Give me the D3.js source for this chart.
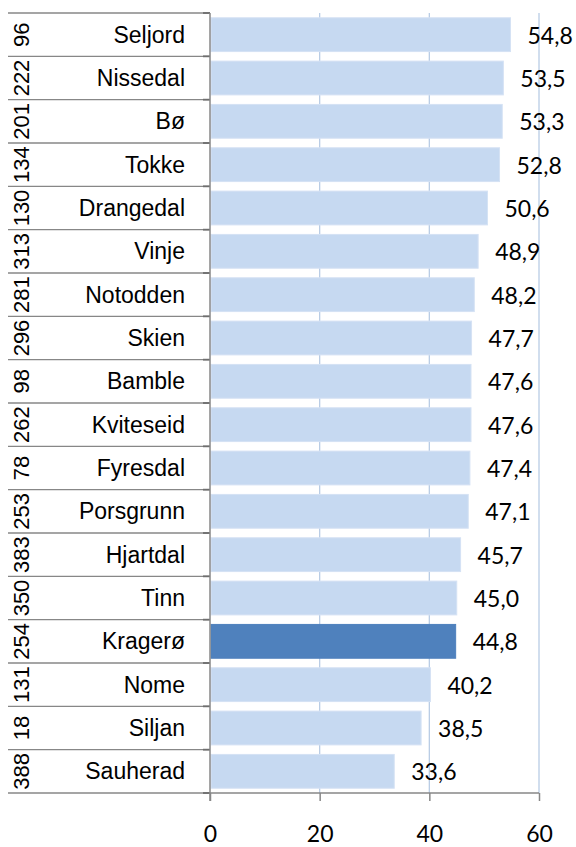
<!DOCTYPE html>
<html><head><meta charset="utf-8">
<script src="https://cdn.jsdelivr.net/npm/d3@7"></script>
<style>body{margin:0;background:#fff}svg{display:block}</style>
</head><body>
<script>
const names = ["Seljord","Nissedal","Bø","Tokke","Drangedal","Vinje","Notodden","Skien","Bamble","Kviteseid","Fyresdal","Porsgrunn","Hjartdal","Tinn","Kragerø","Nome","Siljan","Sauherad"];
const codes = ["96","222","201","134","130","313","281","296","98","262","78","253","383","350","254","131","18","388"];
const values = [54.8,53.5,53.3,52.8,50.6,48.9,48.2,47.7,47.6,47.6,47.4,47.1,45.7,45.0,44.8,40.2,38.5,33.6];
const highlight = "Kragerø";
const xTicks = [0,20,40,60];

const W = 576, H = 847;
const svg = d3.select("body").append("svg").attr("width", W).attr("height", H);

const plotTop = 13, plotBottom = 793, plotLeft = 210, plotRight = 539, leftEdge = 8;
const x = d3.scaleLinear().domain([0,60]).range([plotLeft,plotRight]);
const y = d3.scaleBand().domain(names).range([plotTop,plotBottom]).paddingInner(0.22).paddingOuter(0.11);
const step = y.step();
const fmt = v => d3.format(".1f")(v).replace(".", ",");
const axisColor = "#878787";

// gridlines
svg.append("g").selectAll("line").data(xTicks.filter(t => t > 0)).join("line")
  .attr("x1", d => x(d)).attr("x2", d => x(d))
  .attr("y1", plotTop).attr("y2", plotBottom)
  .attr("stroke", "#b9cde5").attr("stroke-width", 1.3);

// bars
svg.append("g").selectAll("rect").data(names).join("rect")
  .attr("x", x(0) + 1)
  .attr("y", d => y(d))
  .attr("width", (d, i) => x(values[i]) - x(0) - 1)
  .attr("height", y.bandwidth())
  .attr("fill", d => d === highlight ? "#4f81bd" : "#c6d9f1")
  .attr("stroke", d => d === highlight ? "#4f81bd" : "#d5e2f4")
  .attr("stroke-width", 1);

// value labels
svg.append("g").selectAll("text").data(names).join("text")
  .attr("x", (d, i) => x(values[i]) + 17)
  .attr("y", d => y(d) + y.bandwidth() / 2 + 9)
  .attr("font-family", "Lato, 'Open Sans', sans-serif")
  .attr("font-size", 23).attr("fill", "#000")
  .text((d, i) => fmt(values[i]));

// category row lines
const bounds = d3.range(names.length + 1).map(i => plotTop + i * step);
svg.append("g").selectAll("line").data(bounds).join("line")
  .attr("x1", leftEdge).attr("x2", plotLeft)
  .attr("y1", d => d).attr("y2", d => d)
  .attr("stroke", axisColor).attr("stroke-width", 1.3);
svg.append("g").selectAll("line").data(bounds).join("line")
  .attr("x1", plotLeft - 7).attr("x2", plotLeft)
  .attr("y1", d => d).attr("y2", d => d)
  .attr("stroke", "#6e6e6e").attr("stroke-width", 1.8);

// category labels
svg.append("g").selectAll("text").data(names).join("text")
  .attr("x", 185)
  .attr("y", d => y(d) + y.bandwidth() / 2 + 8)
  .attr("text-anchor", "end")
  .attr("font-family", "'Liberation Sans', Arial, sans-serif")
  .attr("font-size", 23).attr("fill", "#000")
  .text(d => d);

// rotated codes
svg.append("g").selectAll("text").data(names).join("text")
  .attr("transform", d => `translate(29,${y(d) + y.bandwidth() / 2}) rotate(-90)`)
  .attr("text-anchor", "middle")
  .attr("font-family", "'Liberation Sans', Arial, sans-serif")
  .attr("font-size", 22).attr("fill", "#000")
  .text((d, i) => codes[i]);

// value axis
const xAxis = svg.append("g").attr("transform", `translate(0,${plotBottom})`)
  .call(d3.axisBottom(x).tickValues(xTicks).tickSize(8).tickPadding(0).tickFormat(d3.format("d")));
xAxis.select(".domain").attr("stroke", axisColor).attr("stroke-width", 1.3).attr("d", `M${plotLeft},0H${plotRight}`);
xAxis.selectAll(".tick line").attr("stroke", axisColor).attr("stroke-width", 1.5);
xAxis.selectAll(".tick text").attr("font-family", "Lato, 'Open Sans', sans-serif")
  .attr("font-size", 23).attr("fill", "#000").attr("dy", null).attr("y", 49);

// category axis line
svg.append("line").attr("x1", plotLeft).attr("x2", plotLeft).attr("y1", plotTop).attr("y2", plotBottom + 8)
  .attr("stroke", axisColor).attr("stroke-width", 1.5);
</script>
</body></html>
